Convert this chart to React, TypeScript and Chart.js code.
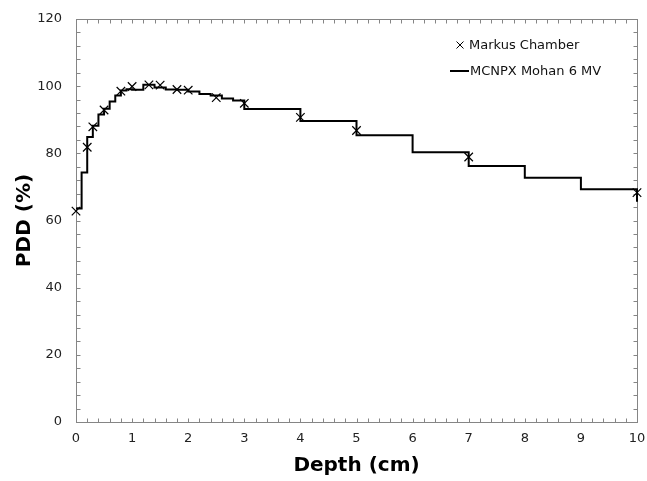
import React, { useEffect, useRef } from "react";
import { Chart, registerables } from "chart.js";

Chart.register(...registerables);

const markusDepth = [0, 0.2, 0.3, 0.5, 0.8, 1.0, 1.3, 1.5, 1.8, 2.0, 2.5, 3.0, 4.0, 5.0, 7.0, 10.0];
const markusPDD = [62.8, 81.8, 87.9, 92.9, 98.5, 99.9, 100.4, 100.3, 99.0, 98.8, 96.6, 94.9, 90.7, 86.8, 78.9, 68.3];

const mcnpxDepth = [0, 0.1, 0.2, 0.3, 0.4, 0.5, 0.6, 0.7, 0.8, 0.9, 1.0, 1.2, 1.4, 1.6, 1.8, 2.0, 2.2, 2.4, 2.6, 2.8, 3, 4, 5, 6, 7, 8, 9, 10];
const mcnpxPDD = [63.6, 74.3, 84.9, 88.2, 91.6, 93.3, 95.4, 97.2, 98.7, 99.1, 98.9, 100.4, 99.6, 99.0, 98.9, 98.4, 97.7, 97.2, 96.3, 95.7, 93.2, 89.6, 85.4, 80.3, 76.2, 72.7, 69.3, 65.6];

const seriesLabels = ["Markus Chamber", "MCNPX Mohan 6 MV"];
const xTitle = "Depth (cm)";
const yTitle = "PDD (%)";

const FONT = "'DejaVu Sans', Verdana, sans-serif";

const framePlugin = {
  id: "frameTicks",
  beforeDatasetsDraw(chart: any) {
    const { ctx, chartArea: a, scales } = chart;
    const xs = scales.x;
    const ys = scales.y;
    ctx.save();
    ctx.strokeStyle = "#858585";
    ctx.lineWidth = 1;
    const l = Math.round(a.left) + 0.5;
    const t = Math.round(a.top) + 0.5;
    const r = Math.round(a.right) + 0.5;
    const b = Math.round(a.bottom) + 0.5;
    ctx.strokeRect(l, t, r - l, b - t);
    const tl = 4;
    ctx.beginPath();
    for (let i = 0; i <= 50; i++) {
      const px = Math.round(xs.getPixelForValue(i / 5)) + 0.5;
      ctx.moveTo(px, b);
      ctx.lineTo(px, b - tl);
      ctx.moveTo(px, t);
      ctx.lineTo(px, t + tl);
    }
    for (let i = 0; i <= 30; i++) {
      const py = Math.round(ys.getPixelForValue(i * 4)) + 0.5;
      ctx.moveTo(l, py);
      ctx.lineTo(l + tl, py);
      ctx.moveTo(r, py);
      ctx.lineTo(r - tl, py);
    }
    ctx.stroke();
    ctx.restore();
  },
};

const legendPlugin = {
  id: "insideLegend",
  afterDraw(chart: any) {
    const { ctx } = chart;
    const ds = chart.data.datasets;
    ctx.save();
    ctx.font = `13px ${FONT}`;
    ctx.fillStyle = "#111";
    ctx.textBaseline = "middle";
    ctx.textAlign = "left";
    const y1 = 45;
    const cx = 460;
    const rr = 3.5;
    ctx.strokeStyle = ds[0].borderColor;
    ctx.lineWidth = 1;
    ctx.beginPath();
    ctx.moveTo(cx - rr, y1 - rr);
    ctx.lineTo(cx + rr, y1 + rr);
    ctx.moveTo(cx - rr, y1 + rr);
    ctx.lineTo(cx + rr, y1 - rr);
    ctx.stroke();
    ctx.fillText(ds[0].label, 469, y1 + 1);
    const y2 = 71;
    ctx.strokeStyle = ds[1].borderColor;
    ctx.lineWidth = 2;
    ctx.beginPath();
    ctx.moveTo(450, y2);
    ctx.lineTo(469, y2);
    ctx.stroke();
    ctx.fillText(ds[1].label, 470, y2 + 1);
    ctx.restore();
  },
};

export default function App() {
  const ref = useRef<HTMLCanvasElement | null>(null);
  useEffect(() => {
    document.body.style.margin = "0";
    if (!ref.current) return;
    const chart = new Chart(ref.current, {
      type: "scatter",
      data: {
        datasets: [
          {
            label: seriesLabels[0],
            data: markusDepth.map((x, i) => ({ x, y: markusPDD[i] })),
            showLine: false,
            pointStyle: "crossRot",
            pointRadius: 6,
            pointHoverRadius: 6,
            borderColor: "#000",
            backgroundColor: "#000",
            borderWidth: 1.2,
            clip: false,
            order: 0,
          } as any,
          {
            label: seriesLabels[1],
            data: mcnpxDepth.map((x, i) => ({ x, y: mcnpxPDD[i] })),
            showLine: true,
            stepped: "before",
            pointRadius: 0,
            borderColor: "#000",
            backgroundColor: "#000",
            borderWidth: 2,
            fill: false,
            clip: 2,
            order: 1,
          } as any,
        ],
      },
      options: {
        animation: false,
        responsive: false,
        layout: { padding: { left: 0, right: 10, top: 19, bottom: 0 } },
        plugins: { legend: { display: false }, tooltip: { enabled: false } },
        scales: {
          x: {
            type: "linear",
            min: 0,
            max: 10,
            ticks: { stepSize: 1, padding: 9, color: "#222", font: { family: FONT, size: 13 } },
            grid: { display: false, drawTicks: false },
            border: { display: false },
            title: { display: true, text: xTitle, color: "#000", font: { family: FONT, size: 20, weight: "bold" }, padding: { top: 0, bottom: 3 } },
            afterFit: (s: any) => { s.height = 59; s.paddingLeft = 0; s.paddingRight = 0; },
          },
          y: {
            type: "linear",
            min: 0,
            max: 120,
            ticks: { stepSize: 20, padding: 14, color: "#222", font: { family: FONT, size: 13 } },
            grid: { display: false, drawTicks: false },
            border: { display: false },
            title: { display: true, text: yTitle, color: "#000", font: { family: FONT, size: 20, weight: "bold" }, padding: { top: 13, bottom: 0 } },
            afterFit: (s: any) => { s.width = 76; s.paddingTop = 0; s.paddingBottom = 0; },
          },
        },
      },
      plugins: [framePlugin, legendPlugin],
    });
    return () => chart.destroy();
  }, []);
  return (
    <div style={{ width: 647, height: 481 }}>
      <canvas ref={ref} width={647} height={481} style={{ display: "block" }} />
    </div>
  );
}
